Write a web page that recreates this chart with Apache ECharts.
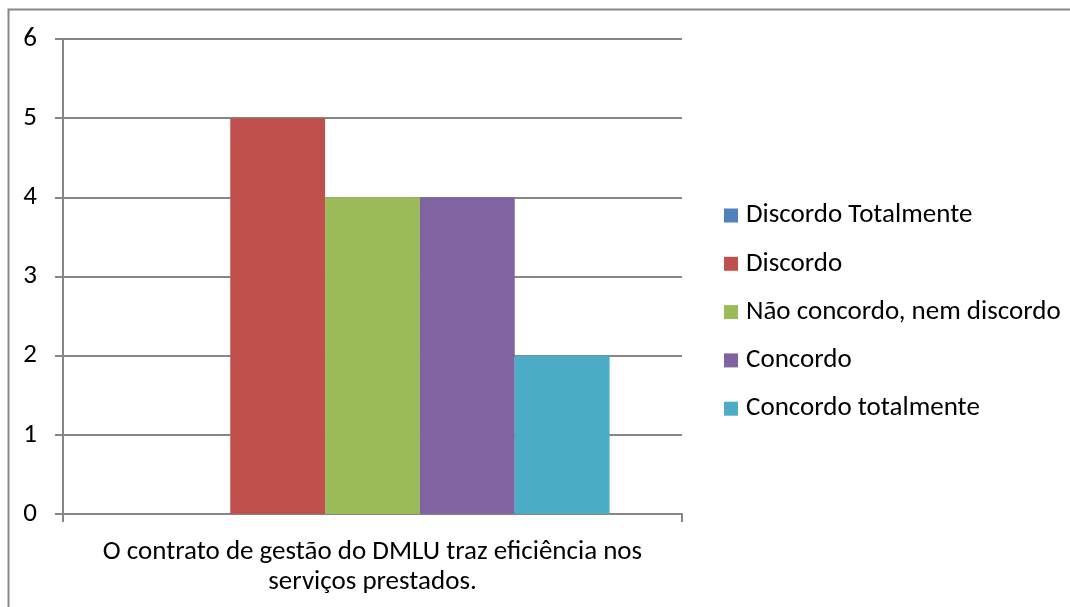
<!DOCTYPE html>
<html>
<head>
<meta charset="utf-8">
<script src="https://cdn.jsdelivr.net/npm/echarts@6/dist/echarts.min.js"></script>
<style>
  html, body { margin: 0; padding: 0; background: #fff; }
  #main { width: 1070px; height: 607px; }
</style>
</head>
<body>
<div id="main"></div>
<script>
// dados do gráfico
const categories = ['O contrato de gestão do DMLU traz eficiência nos\nserviços prestados.'];
const seriesNames = ['Discordo Totalmente', 'Discordo', 'Não concordo, nem discordo', 'Concordo', 'Concordo totalmente'];
const seriesValues = [[0], [5], [4], [4], [2]];
const colors = ['#4F81BD', '#C0504D', '#9BBB59', '#8064A2', '#4BACC6'];
const yTicks = [0, 1, 2, 3, 4, 5, 6];

const chart = echarts.init(document.getElementById('main'));
const font = 'Carlito, Lato, "Open Sans", sans-serif';

let option = {
  backgroundColor: '#fff',
  textStyle: { fontFamily: font },
  animation: false,
  graphic: [
    {
      type: 'rect',
      shape: { x: 8.5, y: 9.5, width: 1200, height: 800 },
      style: { fill: 'none', stroke: '#868686', lineWidth: 2 },
      silent: true,
    },
  ],
  grid: { left: 63, right: 388, top: 39, bottom: 93 },
  xAxis: {
    type: 'category',
    data: categories,
    axisLine: { lineStyle: { color: '#868686', width: 2 } },
    axisTick: { show: true, length: 8, lineStyle: { color: '#868686', width: 2 } },
    axisLabel: {
      color: '#000',
      fontSize: 27,
      fontFamily: font,
      lineHeight: 30,
      margin: 23,
    },
  },
  yAxis: {
    type: 'value',
    min: yTicks[0],
    max: yTicks[yTicks.length - 1],
    interval: 1,
    axisLine: { show: true, lineStyle: { color: '#868686', width: 2 } },
    axisTick: { show: true, length: 8, lineStyle: { color: '#868686', width: 2 } },
    splitLine: { lineStyle: { color: '#868686', width: 2 } },
    axisLabel: { color: '#000', fontSize: 27, fontFamily: font, margin: 26 },
  },
  legend: {
    orient: 'vertical',
    left: 724,
    top: 202,
    padding: 0,
    itemWidth: 14,
    itemHeight: 14,
    itemGap: 21.3,
    icon: 'rect',
    textStyle: { color: '#000', fontSize: 27, lineHeight: 27, fontFamily: font, padding: [0, 0, 0, 3] },
    data: seriesNames,
  },
  series: seriesNames.map((name, i) => ({
    name: name,
    type: 'bar',
    data: seriesValues[i],
    barGap: '0%',
    barCategoryGap: '23.4%',
    itemStyle: { color: colors[i] },
  })),
};
chart.setOption(option);
window.onresize = () => {
  chart.resize();
};
</script>
</body>
</html>
